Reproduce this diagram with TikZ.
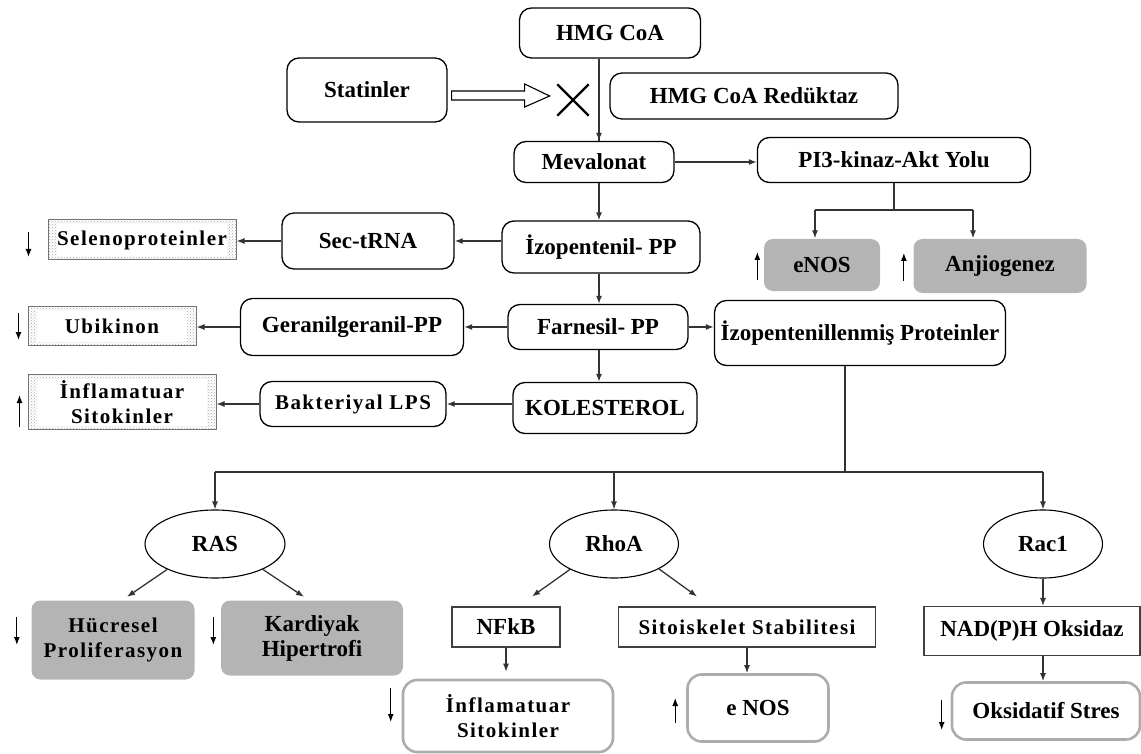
\documentclass[tikz,border=0pt]{standalone}
\usepackage{fontspec}
\setmainfont{Liberation Serif}
\usetikzlibrary{shapes.geometric,shapes.misc,arrows.meta,patterns,calc}
\definecolor{cellgrey}{RGB}{180,180,180}
\definecolor{rimgrey}{RGB}{172,172,172}
\newcommand{\bigtxt}{\fontsize{23}{25}\selectfont\bfseries}
\newcommand{\smalltxt}{\fontsize{21}{25}\selectfont\bfseries\addfontfeature{LetterSpace=7}}

\begin{document}
\begin{tikzpicture}[x=1pt,y=-1pt,line width=1.3pt,>={Latex[length=8pt,width=6pt]},
  every node/.style={font=\bigtxt, align=center, inner sep=0pt},
  rbox/.style={rectangle, rounded corners=12pt, draw},
  gbox/.style={rectangle, rounded corners=9pt, fill=cellgrey},
  sbox/.style={rectangle, draw=black!75, line width=1.1pt},
  obox/.style={rectangle, rounded corners=14pt, draw=rimgrey, line width=2.6pt},
  pbox/.style={rectangle, draw=black!55, line width=1pt, font=\smalltxt,
    pattern=crosshatch dots, pattern color=black!35,
    path picture={\fill[white] ([shift={(9pt,-4pt)}]path picture bounding box.north west)
      rectangle ([shift={(-9pt,4pt)}]path picture bounding box.south east);}},
  oval/.style={ellipse, draw, line width=1.1pt},
  conn/.style={draw=black!80},
  updn/.style={line width=1.2pt}]
\useasboundingbox (0,0) rectangle (1141,754);

% upper part: mevalonate pathway
\path (610,33) node (hmg) [rbox, minimum width=181pt, minimum height=50pt] {HMG CoA};
\path (367,90) node (stat) [rbox, minimum width=160pt, minimum height=64pt] {Statinler};
\path (754,96) node (red) [rbox, minimum width=288pt, minimum height=46pt] {HMG CoA Redüktaz};
\path (573,100) node (cross) [cross out, draw, line width=2.4pt, minimum size=29pt] {};
\path (594,162) node (mev) [rbox, minimum width=160pt, minimum height=41pt] {Mevalonat};
\path (894,160) node (pi3) [rbox, minimum width=273pt, minimum height=45pt] {PI3-kinaz-Akt Yolu};
\path (822,265) node (enos) [gbox, minimum width=116pt, minimum height=52pt] {eNOS};
\path (1000,266) node (anj) [gbox, minimum width=173pt, minimum height=54pt] {Anjiogenez};
\path (601,247) node (izo) [rbox, minimum width=198pt, minimum height=52pt] {İzopentenil- PP};
\path (368,241) node (sec) [rbox, minimum width=172pt, minimum height=56pt] {Sec-tRNA};
\path (142,240) node (selen) [pbox, minimum width=188pt, minimum height=40pt] {Selenoproteinler};
\path (598,327) node (far) [rbox, minimum width=180pt, minimum height=45pt] {Farnesil- PP};
\path (352,327) node (ger) [rbox, minimum width=223pt, minimum height=57pt] {Geranilgeranil-PP};
\path (112,326) node (ubi) [pbox, minimum width=168pt, minimum height=39pt] {Ubikinon};
\path (860,333) node (izp) [rbox, minimum width=291pt, minimum height=65pt] {İzopentenillenmiş Proteinler};
\path (605,408) node (kol) [rbox, minimum width=184pt, minimum height=51pt] {KOLESTEROL};
\path (353,404) node (bak) [rbox, minimum width=186pt, minimum height=45pt, font=\smalltxt] {Bakteriyal LPS};
\path (122,402) node (infl) [pbox, minimum width=188pt, minimum height=55pt] {İnflamatuar\\Sitokinler};

\coordinate (sp) at (599,0);
\coordinate (e1) at (815,210);
\coordinate (e2) at (973,210);

\draw [conn] (hmg.south -| sp) to (mev.north -| sp);
\draw [conn,->] ($(mev.north -| sp)+(0,-10)$) to (mev.north -| sp);
\draw [conn,->] (mev.south -| sp) to (izo.north -| sp);
\draw [conn,->] (izo.south -| sp) to (far.north -| sp);
\draw [conn,->] (far.south -| sp) to (kol.north -| sp);
\draw [conn,->] (mev.east) to (mev.east -| pi3.west);
\draw [conn] (pi3.south) to (pi3.south |- e1);
\draw [conn] (e1) to (e2);
\draw [conn,->] (e1) to (e1 |- enos.north);
\draw [conn,->] (e2) to (e2 |- anj.north);
\draw [conn,->] (izo.west |- sec.east) to (sec.east);
\draw [conn,->] (sec.west) to (sec.west -| selen.east);
\draw [conn,->] (far.west) to (far.west -| ger.east);
\draw [conn,->] (ger.west) to (ger.west -| ubi.east);
\draw [conn,->] (far.east) to (far.east -| izp.west);
\draw [conn,->] (bak.east -| kol.west) to (bak.east);
\draw [conn,->] (bak.west) to (bak.west -| infl.east);

% statin block arrow
\draw [line width=1.1pt, fill=white] ($(stat.east)+(4,1)$) -- ++(73,0) -- ++(0,-7) -- ($(stat.east)+(102,6)$)
  -- ($(stat.east)+(77,17)$) -- ++(0,-7) -- ($(stat.east)+(4,10)$) -- cycle;

% lower part: small GTPases
\path (215,544) node (ras) [oval, minimum width=140pt, minimum height=68pt] {RAS};
\path (614,544) node (rho) [oval, minimum width=129pt, minimum height=68pt] {RhoA};
\path (1043,544) node (rac) [oval, minimum width=119pt, minimum height=68pt] {Rac1};
\path (113,640) node (huc) [gbox, minimum width=163pt, minimum height=79pt, font=\smalltxt] {Hücresel\\Proliferasyon};
\path (312,638) node (kar) [gbox, minimum width=182pt, minimum height=75pt] {Kardiyak\\Hipertrofi};
\path (506,627) node (nfkb) [sbox, minimum width=108pt, minimum height=40pt] {NFkB};
\path (747,627) node (sito) [sbox, minimum width=257pt, minimum height=40pt, font=\smalltxt] {Sitoiskelet Stabilitesi};
\path (1032,631) node (nad) [sbox, minimum width=216pt, minimum height=49pt] {NAD(P)H Oksidaz};
\path (508,716) node (infl2) [obox, minimum width=210pt, minimum height=72pt, font=\smalltxt] {İnflamatuar\\Sitokinler};
\path (758,708) node (enos2) [obox, minimum width=141pt, minimum height=67pt] {e NOS};
\path (1046,711) node (oks) [obox, minimum width=188pt, minimum height=57pt] {Oksidatif Stres};

\coordinate (br) at (845,472);
\draw [conn] (izp.south -| br) to (br);
\draw [conn] (ras |- br) to (rac |- br);
\draw [conn,->] (ras |- br) to (ras.north);
\draw [conn,->] (rho |- br) to (rho.north);
\draw [conn,->] (rac |- br) to (rac.north);
\draw [conn,->] (ras.208) to ([xshift=14pt,yshift=3pt]huc.north);
\draw [conn,->] (ras.332) to ([xshift=-8pt,yshift=3pt]kar.north);
\draw [conn,->] (rho.210) to ([xshift=26pt,yshift=10pt]nfkb.north);
\draw [conn,->] (rho.331) to ([xshift=-50pt,yshift=10pt]sito.north);
\draw [conn,->, shorten >=7pt] (nfkb.south) to (nfkb.south |- infl2.north);
\draw [conn,->] (sito.south) to (sito.south |- enos2.north);
\draw [conn,->] (rac.south) to (rac.south |- nad.north);
\draw [conn,->] (nad.south -| rac) to (oks.north -| rac);

% up / down marks
\draw [updn,->] ($(selen.west)+(-19,-8)$) -- ++(0,25);
\draw [updn,->] ($(ubi.west)+(-9,-13)$) -- ++(0,27);
\draw [updn,->] ($(infl.west)+(-8,25)$) -- ++(0,-32);
\draw [updn,->] ($(enos.west)+(-6,15)$) -- ++(0,-28);
\draw [updn,->] ($(anj.west)+(-9,15)$) -- ++(0,-28);
\draw [updn,->] ($(huc.west)+(-14,-23)$) -- ++(0,28);
\draw [updn,->] ($(kar.west)+(-7,-21)$) -- ++(0,28);
\draw [updn,->] ($(infl2.west)+(-11,-28)$) -- ++(0,34);
\draw [updn,->] ($(enos2.west)+(-11,15)$) -- ++(0,-25);
\draw [updn,->] ($(oks.west)+(-9,-11)$) -- ++(0,30);

\end{tikzpicture}
\end{document}
